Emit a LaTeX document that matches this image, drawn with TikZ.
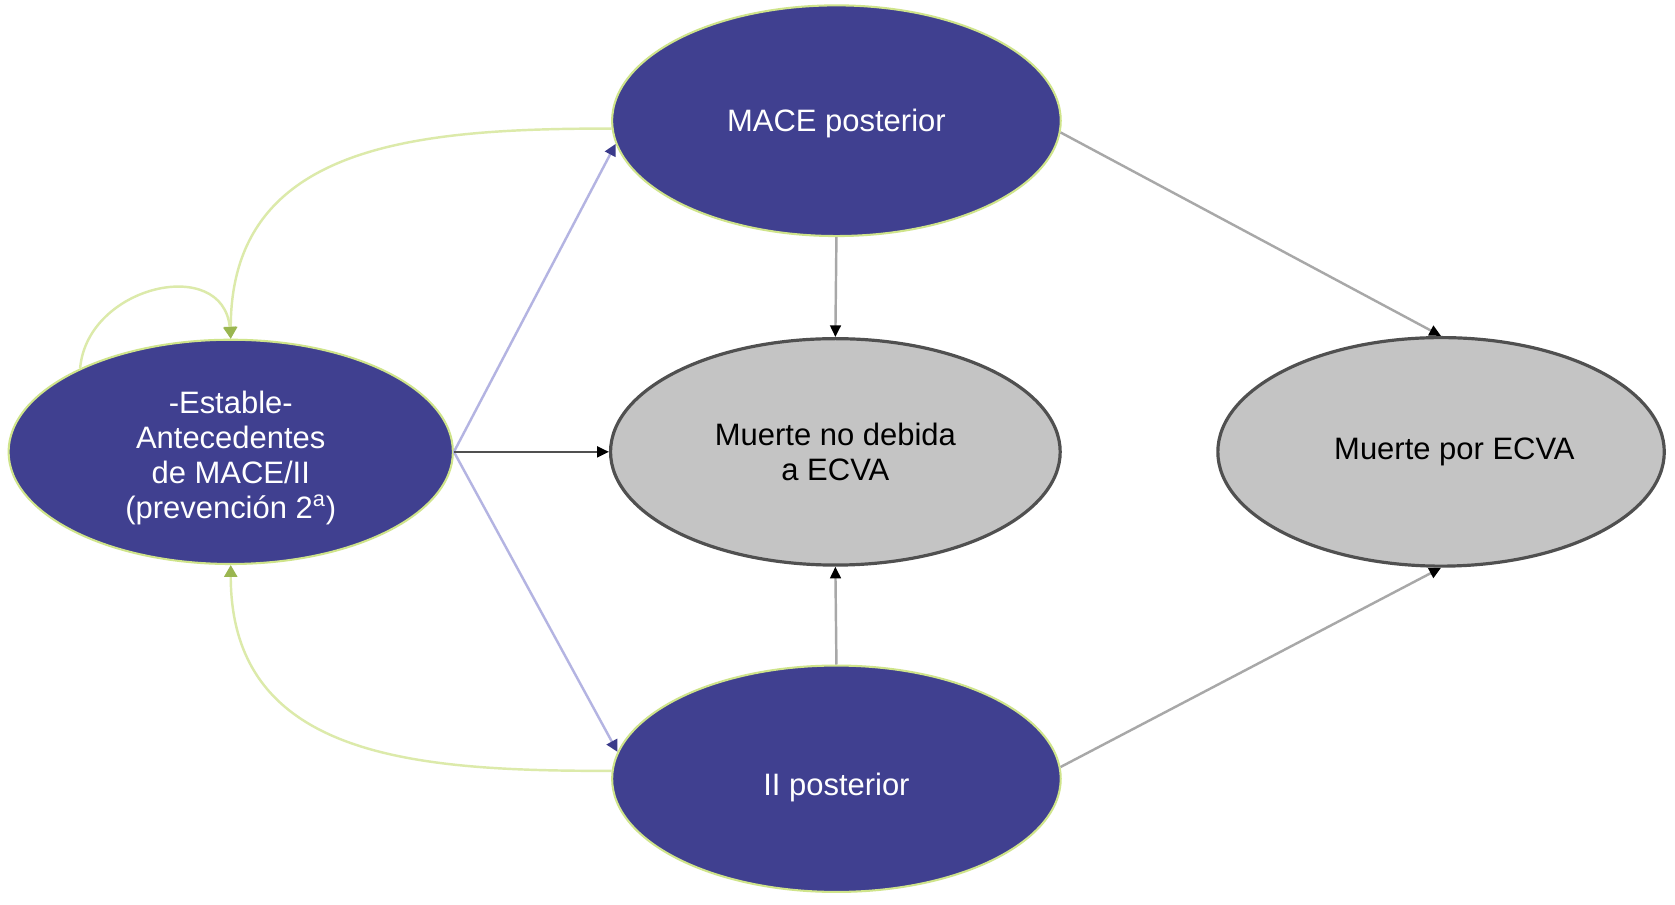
\documentclass[tikz,border=0pt]{standalone}
\usepackage{fontspec}
\setmainfont{Liberation Sans}
\usetikzlibrary{shapes.geometric,arrows.meta}
\definecolor{bluefill}{HTML}{404090}
\definecolor{greenborder}{HTML}{CFE48A}
\definecolor{greenline}{HTML}{DCEAAA}
\definecolor{greentip}{HTML}{9AB650}
\definecolor{lavline}{HTML}{B4B4E2}
\definecolor{lavtip}{HTML}{3A3A8A}
\definecolor{grayfill}{HTML}{C4C4C4}
\definecolor{grayborder}{HTML}{505050}
\definecolor{grayline}{HTML}{A8A8A8}
\tikzset{
  bluestate/.style={ellipse, fill=bluefill, draw=greenborder, line width=1.1pt, inner sep=0pt,
    text=white, align=center, font=\fontsize{16.5}{18.7}\selectfont},
  graystate/.style={ellipse, fill=grayfill, draw=grayborder, line width=1.7pt, inner sep=0pt,
    text=black, align=center, font=\fontsize{16.5}{18.7}\selectfont},
  lavarrow/.style={draw=lavline, line width=1.3pt, -{Triangle[length=2.2mm,width=2.2mm,color=lavtip]}},
  grayarrow/.style={draw=grayline, line width=1.3pt, -{Triangle[length=2.2mm,width=2mm,color=black]}},
  darkarrow/.style={draw=grayborder, line width=1.3pt, -{Triangle[length=2.2mm,width=2mm,color=black]}},
  greenarrow/.style={draw=greenline, line width=1.3pt, -{Triangle[length=2.2mm,width=2.4mm,color=greentip]}},
}
\begin{document}
\begin{tikzpicture}[x=0.02cm,y=-0.02cm]
\path[use as bounding box, fill=white] (0,0) rectangle (1568,847);

\node[bluestate, minimum width=8.32cm, minimum height=4.2cm] (est) at (216,423)
  {\rule{0pt}{18.5pt}-Estable-\\Antecedentes\\de MACE/II\\(prevención 2\textsuperscript{a})};
\node[bluestate, minimum width=8.4cm, minimum height=4.32cm] (mace) at (783,113) {\rule{0pt}{15.2pt}MACE posterior};
\node[graystate, minimum width=8.42cm, minimum height=4.24cm] (mnd) at (782,423) {Muerte no debida\\a ECVA};
\node[graystate, minimum width=8.36cm, minimum height=4.28cm] (mpe) at (1349,423) {\hspace*{0.5cm}Muerte por ECVA};
\node[bluestate, minimum width=8.4cm, minimum height=4.24cm] (ii) at (783,729) {\rule{0pt}{21pt}II posterior};

% lavender arrows from Estable
\draw[lavarrow] (est.east) -- (mace.186);
\draw[lavarrow] (est.east) -- (ii.173);
% dark arrow to Muerte no debida
\draw[darkarrow] (est.east) -- (mnd.west);
% gray arrows
\draw[grayarrow] (mace.south) -- (mnd.north);
\draw[grayarrow] (ii.north) -- (mnd.south);
\draw[grayarrow] (mace.357) -- (mpe.north);
\draw[grayarrow] (ii.3) -- (mpe.south);
% green return curves
\draw[greenarrow] (mace.182) to[out=180,in=90,looseness=1.15] (est.north);
\draw[greenarrow] (ii.178) to[out=180,in=-90,looseness=1.15] (est.south);
\draw[greenarrow] (est.151) to[out=85,in=95,looseness=1.4] (est.north);
\end{tikzpicture}
\end{document}
